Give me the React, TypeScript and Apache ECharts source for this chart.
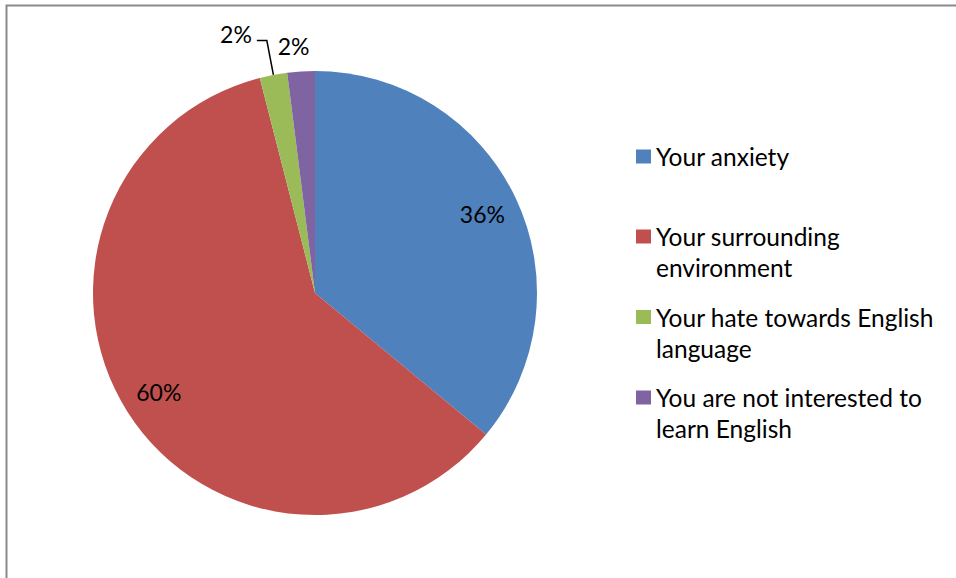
import React, { useEffect, useRef } from "react";
import * as echarts from "echarts";

const categories = [
  "Your anxiety",
  "Your surrounding environment",
  "Your hate towards English language",
  "You are not interested to learn English",
];
const values = [36, 60, 2, 2];
const colors = ["#4F81BD", "#C0504D", "#9BBB59", "#8064A2"];
const legendLines = [
  ["Your anxiety"],
  ["Your surrounding", "environment"],
  ["Your hate towards English", "language"],
  ["You are not interested to", "learn English"],
];

const FONT = "Lato";
const FS = 23;
const LFS = 24.5;

export default function App() {
  const ref = useRef<HTMLDivElement>(null);
  useEffect(() => {
    if (!ref.current) return;
    const chart = echarts.init(ref.current, undefined, { renderer: "svg" });
    const center = [315, 293];
    const R = 222;
    const legendTops = [141, 190, 270.5, 351];
    const fmt = (p: any) => Math.round(p.percent) + "%";
    const fmtOuter = (p: any) =>
      Math.round(p.percent) + "%" + (p.dataIndex === 2 ? "\n" : "");
    chart.setOption({
      animation: false,
      backgroundColor: "#fff",
      graphic: [
        {
          type: "rect",
          shape: { x: 6.5, y: 5.5, width: 1200, height: 1200 },
          style: { fill: "none", stroke: "#8a8a8a", lineWidth: 2 },
          silent: true,
        },
      ],
      legend: categories.map((n, i) => ({
        data: [n],
        orient: "vertical",
        left: 636,
        top: legendTops[i],
        padding: 0,
        icon: "rect",
        itemWidth: 15,
        itemHeight: 14,
        itemGap: 0,
        selectedMode: false,
        formatter: () =>
          (legendLines[i].length > 1 ? "\n" : "") + legendLines[i].join("\n"),
        textStyle: { fontFamily: FONT, fontSize: LFS, lineHeight: 31, color: "#000" },
      })),
      series: [
        {
          type: "pie",
          center,
          radius: R,
          startAngle: 90,
          clockwise: true,
          silent: true,
          avoidLabelOverlap: false,
          itemStyle: { borderWidth: 0 },
          label: {
            position: "outside",
            formatter: fmtOuter,
            fontFamily: FONT,
            fontSize: FS,
            lineHeight: 14,
            color: "#000",
          },
          labelLine: { lineStyle: { color: "#000", width: 1.5 } },
          data: categories.map((n, i) => ({
            name: n,
            value: values[i],
            itemStyle: { color: colors[i] },
            label: {
              show: i >= 2,
              distanceToLabelLine: i === 3 ? -10 : 5,
            },
            labelLine: {
              show: i === 2,
              length: i === 2 ? 35 : 25,
              length2: i === 2 ? 10 : 0,
            },
          })),
        },
        {
          type: "pie",
          center,
          radius: [142, R],
          startAngle: 90,
          clockwise: true,
          silent: true,
          avoidLabelOverlap: false,
          itemStyle: { color: "rgba(0,0,0,0)", borderWidth: 0 },
          label: {
            position: "inside",
            formatter: fmt,
            fontFamily: FONT,
            fontSize: FS,
            color: "#000",
          },
          labelLine: { show: false },
          data: categories.map((n, i) => ({
            name: n,
            value: values[i],
            label: { show: i < 2 },
          })),
        },
      ],
    });
    return () => chart.dispose();
  }, []);
  return (
    <div
      ref={ref}
      style={{ position: "fixed", left: 0, top: 0, width: 956, height: 578 }}
    />
  );
}
